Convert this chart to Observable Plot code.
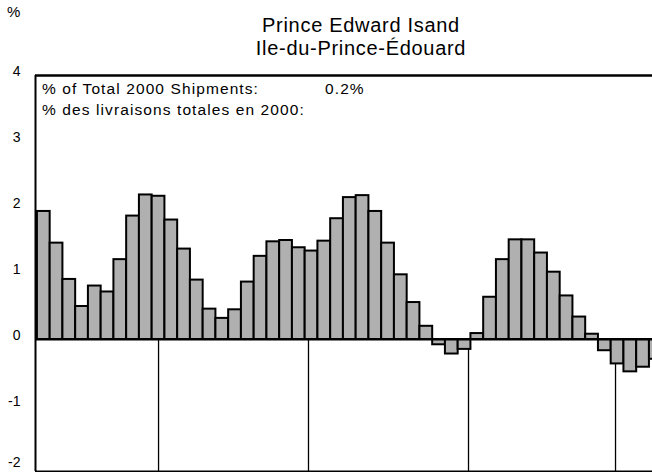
<!DOCTYPE html>
<html>
<head>
<meta charset="utf-8">
<script src="https://cdn.jsdelivr.net/npm/d3@7"></script>
<script src="https://cdn.jsdelivr.net/npm/@observablehq/plot@0.6"></script>
<style>
  html, body { margin: 0; padding: 0; background: #fff; }
  #wrap { position: relative; width: 652px; height: 472px; overflow: hidden; font-family: "Liberation Sans", Arial, Helvetica, sans-serif; color: #000; }
  .t { position: absolute; white-space: nowrap; line-height: 1; }
  svg { display: block; }
</style>
</head>
<body>
<div id="wrap">
  <div class="t" id="pct" style="left:7px; top:4px; font-size:15px;">%</div>
  <div class="t" id="title1" style="left:361px; top:15px; font-size:20px; letter-spacing:0.7px; transform:translateX(-50%);">Prince Edward Isand</div>
  <div class="t" id="title2" style="left:361px; top:38px; font-size:20px; letter-spacing:0.7px; transform:translateX(-50%);">Ile-du-Prince-Édouard</div>
  <div class="t" id="ann1" style="left:42px; top:81px; font-size:15.5px; letter-spacing:1.1px;">% of Total 2000 Shipments:</div>
  <div class="t" id="annv" style="left:325px; top:81px; font-size:15.5px; letter-spacing:1.1px;">0.2%</div>
  <div class="t" id="ann2" style="left:42px; top:102px; font-size:15.5px; letter-spacing:1.1px;">% des livraisons totales en 2000:</div>
</div>
<script>
// Monthly values (% change)
const values = [
  1.94, 1.46, 0.91, 0.50, 0.81, 0.72, 1.21, 1.87, 2.19, 2.17, 1.81, 1.37,
  0.90, 0.46, 0.32, 0.45, 0.87, 1.26, 1.48, 1.50, 1.39, 1.34, 1.49, 1.83,
  2.15, 2.18, 1.94, 1.46, 0.98, 0.56, 0.20, -0.08, -0.22, -0.15, 0.09, 0.64,
  1.21, 1.51, 1.51, 1.31, 1.02, 0.66, 0.34, 0.08, -0.17, -0.37, -0.49, -0.42,
  -0.30
];
// Year divider positions (in bar-index units)
const yearMarks = [9.5, 21.26, 33.81, 45.34];
const yTicks = [-1, 0, 1, 2, 3, 4];
const yBottomTick = [-2];
const xDomain = [-0.15, 48.24];
const yDomain = [-2, 4];

const bars = values.map((v, i) => ({i, v}));

const chart = Plot.plot({
  width: 652,
  height: 472,
  marginTop: 75,
  marginBottom: 1,
  marginLeft: 35,
  marginRight: 0,
  style: {fontFamily: "'Liberation Sans', Arial, Helvetica, sans-serif", fontSize: "14px", color: "#000", background: "transparent", overflow: "visible"},
  x: {type: "linear", domain: xDomain, axis: null},
  y: {domain: yDomain, axis: null},
  marks: [
    Plot.axisY({ticks: yTicks, tickSize: 0, tickPadding: 15, tickFormat: d => String(d), label: null, dy: -4}),
    Plot.axisY({ticks: yBottomTick, tickSize: 0, tickPadding: 15, tickFormat: d => String(d), label: null, dy: -9}),
    Plot.ruleX(yearMarks, {y1: 0, y2: yDomain[0], stroke: "#000", strokeWidth: 1.3}),
    Plot.rectY(bars, {x1: d => d.i, x2: d => d.i + 1, y: "v", fill: "#b0b0b0", stroke: "#000", strokeWidth: 2, inset: 0, clip: true}),
    Plot.ruleY([0], {stroke: "#000", strokeWidth: 2}),
    Plot.ruleY([yDomain[1]], {stroke: "#000", strokeWidth: 2.5}),
    Plot.ruleY([yDomain[0]], {stroke: "#000", strokeWidth: 2}),
    Plot.ruleX([xDomain[0]], {stroke: "#000", strokeWidth: 2})
  ]
});
chart.style.position = "absolute";
chart.style.left = "0px";
chart.style.top = "0px";
document.getElementById("wrap").prepend(chart);
</script>
</body>
</html>
